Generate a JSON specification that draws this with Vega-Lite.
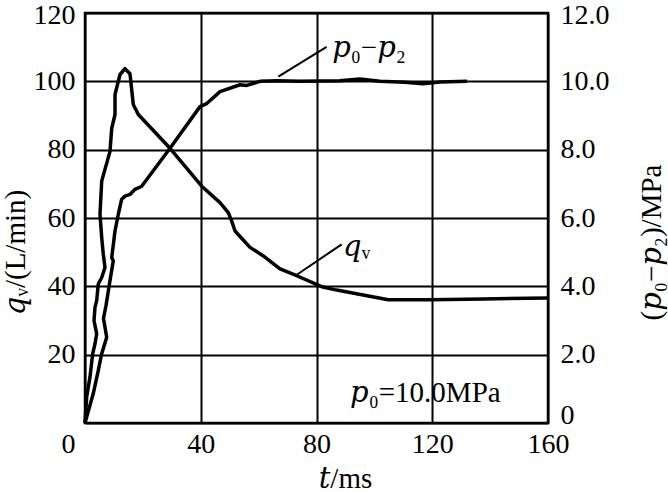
{
  "$schema": "https://vega.github.io/schema/vega-lite/v6.json",
  "width": 463,
  "height": 410,
  "autosize": "none",
  "padding": {"left": 85, "top": 13, "right": 120, "bottom": 69},
  "background": "white",
  "config": {
    "view": {"stroke": "black", "strokeWidth": 2.5},
    "font": "Liberation Serif, DejaVu Serif",
    "axis": {
      "domain": false,
      "ticks": false,
      "labelFont": "Liberation Serif",
      "labelFontSize": 28,
      "labelColor": "black",
      "titleFont": "Liberation Serif, DejaVu Serif",
      "titleFontSize": 29,
      "titleFontWeight": "normal",
      "titleColor": "black",
      "gridColor": "black",
      "gridOpacity": 1,
      "gridWidth": 2,
      "labelOverlap": false
    }
  },
  "datasets": {
    "qv": [
      {"i": 1, "t": 0, "q": 0}, {"i": 2, "t": 0.59, "q": 7.7}, {"i": 3, "t": 1.73, "q": 13.5}, {"i": 4, "t": 2.66, "q": 20.3},
      {"i": 5, "t": 3.46, "q": 23.2}, {"i": 6, "t": 4.04, "q": 26.1}, {"i": 7, "t": 3.11, "q": 30.0}, {"i": 8, "t": 3.46, "q": 33.9},
      {"i": 9, "t": 4.04, "q": 35.8}, {"i": 10, "t": 4.6, "q": 40.7}, {"i": 11, "t": 5.77, "q": 42.6}, {"i": 12, "t": 6.91, "q": 45.5},
      {"i": 13, "t": 6.32, "q": 49.4}, {"i": 14, "t": 5.77, "q": 54.3}, {"i": 15, "t": 5.18, "q": 61.1}, {"i": 16, "t": 5.77, "q": 70.8},
      {"i": 17, "t": 8.64, "q": 79.5}, {"i": 18, "t": 9.23, "q": 86.2}, {"i": 19, "t": 10.37, "q": 90.3}, {"i": 20, "t": 10.37, "q": 96.1},
      {"i": 21, "t": 12.1, "q": 102.0}, {"i": 22, "t": 13.82, "q": 103.7}, {"i": 23, "t": 15.55, "q": 102.2}, {"i": 24, "t": 16.69, "q": 93.2},
      {"i": 25, "t": 18.42, "q": 90.3}, {"i": 26, "t": 29.38, "q": 80.4}, {"i": 27, "t": 40.33, "q": 69.3}, {"i": 28, "t": 46.66, "q": 64.5},
      {"i": 29, "t": 49.52, "q": 61.6}, {"i": 30, "t": 50.7, "q": 59.1}, {"i": 31, "t": 51.84, "q": 56.2}, {"i": 32, "t": 57.02, "q": 51.4},
      {"i": 33, "t": 61.62, "q": 48.9}, {"i": 34, "t": 67.39, "q": 45.1}, {"i": 35, "t": 73.16, "q": 43.1}, {"i": 36, "t": 81.8, "q": 39.9},
      {"i": 37, "t": 86.98, "q": 38.9}, {"i": 38, "t": 104.8, "q": 36.1}, {"i": 39, "t": 119.2, "q": 36.1}, {"i": 40, "t": 137.7, "q": 36.3},
      {"i": 41, "t": 160, "q": 36.6}
    ],
    "pd": [
      {"i": 1, "t": 0, "p": 0}, {"i": 2, "t": 2.87, "p": 0.87}, {"i": 3, "t": 4.6, "p": 1.54}, {"i": 4, "t": 5.77, "p": 2.03},
      {"i": 5, "t": 7.5, "p": 2.51}, {"i": 6, "t": 6.39, "p": 3.06}, {"i": 7, "t": 7.26, "p": 3.44}, {"i": 8, "t": 8.64, "p": 4.17},
      {"i": 9, "t": 9.78, "p": 4.75}, {"i": 10, "t": 9.23, "p": 4.84}, {"i": 11, "t": 10.37, "p": 5.62}, {"i": 12, "t": 11.51, "p": 6.11},
      {"i": 13, "t": 12.68, "p": 6.55}, {"i": 14, "t": 13.82, "p": 6.64}, {"i": 15, "t": 15.55, "p": 6.69}, {"i": 16, "t": 17.28, "p": 6.84},
      {"i": 17, "t": 19.6, "p": 6.93}, {"i": 18, "t": 29.38, "p": 8.04}, {"i": 19, "t": 39.74, "p": 9.26}, {"i": 20, "t": 42.06, "p": 9.35},
      {"i": 21, "t": 46.66, "p": 9.7}, {"i": 22, "t": 53.57, "p": 9.9}, {"i": 23, "t": 55.88, "p": 9.88}, {"i": 24, "t": 60.48, "p": 10.0},
      {"i": 25, "t": 66.25, "p": 10.02}, {"i": 26, "t": 74.3, "p": 10.0}, {"i": 27, "t": 88.1, "p": 10.02}, {"i": 28, "t": 95.0, "p": 10.07},
      {"i": 29, "t": 101.9, "p": 10.0}, {"i": 30, "t": 110.6, "p": 9.97}, {"i": 31, "t": 116.8, "p": 9.93}, {"i": 32, "t": 122.7, "p": 9.98},
      {"i": 33, "t": 132, "p": 10.0}
    ],
    "leaders": [
      {"x": 66.8, "y": 101.4, "x2": 83.5, "y2": 110.1},
      {"x": 73.2, "y": 43.4, "x2": 88.7, "y2": 52.3}
    ],
    "labels": [
      {"x": 85.4, "y": 107.2, "label": "𝑝₀−𝑝₂"},
      {"x": 89.2, "y": 48.9, "label": "𝑞ᵥ"},
      {"x": 91.6, "y": 6.2, "label": "𝑝₀=10.0MPa"}
    ]
  },
  "layer": [
    {
      "layer": [
        {
          "data": {"name": "qv"},
          "mark": {"type": "line", "color": "black", "strokeWidth": 3.5, "strokeJoin": "round"},
          "encoding": {
            "x": {
              "field": "t", "type": "quantitative",
              "scale": {"domain": [0, 160], "nice": false},
              "axis": {"values": [0, 40, 80, 120, 160], "grid": true, "labelFlush": false, "labelPadding": 7, "labelOffset": {"condition": {"test": "datum.value === 0", "value": -17}, "value": 0}, "title": "𝑡/ms", "titleX": 260, "titleY": 64, "titleAlign": "center", "titleBaseline": "alphabetic"}
            },
            "y": {
              "field": "q", "type": "quantitative",
              "scale": {"domain": [0, 120], "nice": false},
              "axis": {"values": [0, 20, 40, 60, 80, 100, 120], "grid": true, "labelPadding": 10, "labelOffset": {"condition": {"test": "datum.value === 120", "value": 2}, "value": 0}, "labelExpr": "datum.value === 0 ? '' : datum.label", "title": "𝑞ᵥ/(L/min)", "titleAngle": 270, "titleX": -70, "titleY": 239, "titleAlign": "center", "titleBaseline": "middle"}
            },
            "order": {"field": "i", "type": "quantitative"}
          }
        },
        {
          "data": {"name": "leaders"},
          "mark": {"type": "rule", "color": "black", "strokeWidth": 2},
          "encoding": {
            "x": {
              "field": "x", "type": "quantitative",
              "scale": {"domain": [0, 160], "nice": false},
              "axis": {"values": [0, 40, 80, 120, 160], "grid": true, "labelFlush": false, "labelPadding": 7, "labelOffset": {"condition": {"test": "datum.value === 0", "value": -17}, "value": 0}, "title": "𝑡/ms", "titleX": 260, "titleY": 64, "titleAlign": "center", "titleBaseline": "alphabetic"}
            },
            "y": {
              "field": "y", "type": "quantitative",
              "scale": {"domain": [0, 120], "nice": false},
              "axis": {"values": [0, 20, 40, 60, 80, 100, 120], "grid": true, "labelPadding": 10, "labelOffset": {"condition": {"test": "datum.value === 120", "value": 2}, "value": 0}, "labelExpr": "datum.value === 0 ? '' : datum.label", "title": "𝑞ᵥ/(L/min)", "titleAngle": 270, "titleX": -70, "titleY": 239, "titleAlign": "center", "titleBaseline": "middle"}
            },
            "x2": {"field": "x2"},
            "y2": {"field": "y2"}
          }
        },
        {
          "data": {"name": "labels"},
          "mark": {"type": "text", "align": "left", "baseline": "alphabetic", "font": "Liberation Serif, DejaVu Serif", "fontSize": 29, "color": "black"},
          "encoding": {
            "x": {
              "field": "x", "type": "quantitative",
              "scale": {"domain": [0, 160], "nice": false},
              "axis": {"values": [0, 40, 80, 120, 160], "grid": true, "labelFlush": false, "labelPadding": 7, "labelOffset": {"condition": {"test": "datum.value === 0", "value": -17}, "value": 0}, "title": "𝑡/ms", "titleX": 260, "titleY": 64, "titleAlign": "center", "titleBaseline": "alphabetic"}
            },
            "y": {
              "field": "y", "type": "quantitative",
              "scale": {"domain": [0, 120], "nice": false},
              "axis": {"values": [0, 20, 40, 60, 80, 100, 120], "grid": true, "labelPadding": 10, "labelOffset": {"condition": {"test": "datum.value === 120", "value": 2}, "value": 0}, "labelExpr": "datum.value === 0 ? '' : datum.label", "title": "𝑞ᵥ/(L/min)", "titleAngle": 270, "titleX": -70, "titleY": 239, "titleAlign": "center", "titleBaseline": "middle"}
            },
            "text": {"field": "label"}
          }
        }
      ]
    },
    {
      "data": {"name": "pd"},
      "mark": {"type": "line", "color": "black", "strokeWidth": 3.5, "strokeJoin": "round"},
      "encoding": {
        "x": {
          "field": "t", "type": "quantitative",
          "scale": {"domain": [0, 160], "nice": false},
          "axis": {"values": [0, 40, 80, 120, 160], "grid": true, "labelFlush": false, "labelPadding": 7, "labelOffset": {"condition": {"test": "datum.value === 0", "value": -17}, "value": 0}, "title": "𝑡/ms", "titleX": 260, "titleY": 64, "titleAlign": "center", "titleBaseline": "alphabetic"}
        },
        "y": {
          "field": "p", "type": "quantitative",
          "scale": {"domain": [0, 12], "nice": false},
          "axis": {"orient": "right", "values": [0, 2, 4, 6, 8, 10, 12], "grid": false, "labelPadding": 12, "labelOffset": {"condition": [{"test": "datum.value === 0", "value": -8}, {"test": "datum.value === 12", "value": 2}], "value": 0}, "labelExpr": "datum.value === 0 ? '0' : format(datum.value, '.1f')", "title": "(𝑝₀−𝑝₂)/MPa", "titleAngle": 270, "titleX": 103, "titleY": 229, "titleAlign": "center", "titleBaseline": "middle"}
        },
        "order": {"field": "i", "type": "quantitative"}
      }
    }
  ],
  "resolve": {"scale": {"y": "independent"}}
}
